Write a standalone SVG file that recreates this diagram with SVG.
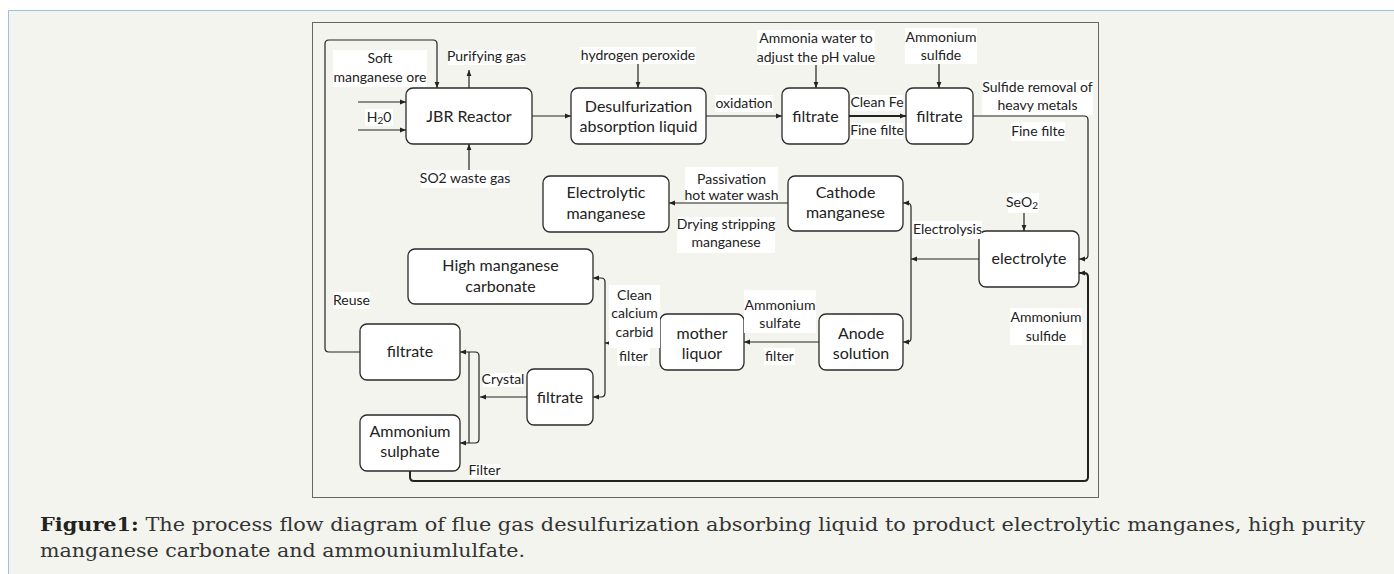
<svg xmlns="http://www.w3.org/2000/svg" width="1394" height="574" viewBox="0 0 1394 574">
<style>
.node rect{fill:#fff;stroke:#2a2a2a;stroke-width:1.3}
.node text{font-family:Lato,"Open Sans",sans-serif;font-size:16px;fill:#222;text-anchor:middle}
.lbl rect{fill:#fff;stroke:none}
.lbl text{font-family:Lato,"Open Sans",sans-serif;font-size:14px;fill:#222;text-anchor:middle}
.c path{fill:none;stroke:#222;stroke-width:1.2}
.c .thick{stroke-width:2}
.cap{font-family:"DejaVu Serif","Liberation Serif",serif;font-size:18px;fill:#333}
</style>
<defs>
<marker id="ah" viewBox="0 0 10 10" refX="10" refY="5" markerWidth="6" markerHeight="6" markerUnits="userSpaceOnUse" orient="auto-start-reverse">
<path d="M0,1 L10,5 L0,9 z" fill="#222"/>
</marker>
</defs>
<rect x="0" y="0" width="1394" height="574" fill="#fff"/>
<rect x="8" y="10" width="1386" height="564" fill="#f4f4ef"/>
<path d="M8.5,574 V10.5 H1394" fill="none" stroke="#9dbdea" stroke-width="1"/>
<rect x="312.5" y="22.5" width="786" height="475" fill="#f4f4ef" stroke="#666" stroke-width="1"/>

<g class="c" id="connectors">
<path d="M360,352 H329 Q325,352 325,348 V44 Q325,40 329,40 H433 Q437,40 437,44 V88" marker-end="url(#ah)"/>
<path d="M469,88 V70" marker-end="url(#ah)"/>
<path d="M358,102 H406" marker-end="url(#ah)"/>
<path d="M358,130 H406" marker-end="url(#ah)"/>
<path d="M469,170 V144" marker-end="url(#ah)"/>
<path d="M532,116 H571" marker-end="url(#ah)"/>
<path d="M638,64 V88" marker-end="url(#ah)"/>
<path d="M706,116 H782" marker-end="url(#ah)"/>
<path d="M816,65 V88" marker-end="url(#ah)"/>
<path class="thick" d="M849,116 H906" marker-end="url(#ah)"/>
<path d="M939,64 V88" marker-end="url(#ah)"/>
<path d="M973,116 H1084 Q1088,116 1088,120 V255 Q1088,259 1084,259 H1079" marker-end="url(#ah)"/>
<path class="thick" d="M410,471 V477 Q410,481 414,481 H1084 Q1088,481 1088,477 V277 Q1088,273 1084,273 H1079" marker-end="url(#ah)"/>
<path d="M1024,213 V231" marker-end="url(#ah)"/>
<path d="M979,259 H911" marker-end="url(#ah)"/>
<path d="M903,203 H907 Q911,203 911,207 V338 Q911,342 907,342 H903" marker-start="url(#ah)" marker-end="url(#ah)"/>
<path d="M788,203 H669" marker-end="url(#ah)"/>
<path d="M819,342 H744" marker-end="url(#ah)"/>
<path d="M660,343 H605" marker-end="url(#ah)"/>
<path d="M593,278 H601 Q605,278 605,282 V393 Q605,397 601,397 H593" marker-start="url(#ah)" marker-end="url(#ah)"/>
<path d="M527,397 H480" marker-end="url(#ah)"/>
<path d="M460,352 H475 Q479,352 479,356 V439 Q479,443 475,443 H460" marker-start="url(#ah)" marker-end="url(#ah)"/>
<path d="M469,352 V443"/>
</g>

<g class="node" id="jbr"><rect x="406" y="88" width="126" height="56" rx="7"/><text x="469" y="122">JBR Reactor</text></g>
<g class="node" id="desulf"><rect x="571" y="88" width="135" height="56" rx="7"/><text x="638.5" y="112">Desulfurization</text><text x="638.5" y="132">absorption liquid</text></g>
<g class="node" id="filtrate1"><rect x="782" y="88" width="67" height="56" rx="7"/><text x="815.5" y="122">filtrate</text></g>
<g class="node" id="filtrate2"><rect x="906" y="88" width="67" height="56" rx="7"/><text x="939.5" y="122">filtrate</text></g>
<g class="node" id="cathode"><rect x="788" y="176" width="115" height="55" rx="7"/><text x="845.5" y="198">Cathode</text><text x="845.5" y="218">manganese</text></g>
<g class="node" id="electrolytic"><rect x="543" y="176" width="126" height="56" rx="7"/><text x="606" y="198">Electrolytic</text><text x="606" y="219">manganese</text></g>
<g class="node" id="electrolyte"><rect x="979" y="231" width="100" height="56" rx="7"/><text x="1029" y="264">electrolyte</text></g>
<g class="node" id="hmc"><rect x="408" y="249" width="185" height="55" rx="7"/><text x="500.5" y="271">High manganese</text><text x="500.5" y="292">carbonate</text></g>
<g class="node" id="anode"><rect x="819" y="314" width="84" height="56" rx="7"/><text x="861" y="339">Anode</text><text x="861" y="359">solution</text></g>
<g class="node" id="mother"><rect x="660" y="314" width="84" height="56" rx="7"/><text x="702" y="339">mother</text><text x="702" y="359">liquor</text></g>
<g class="node" id="filtrateL"><rect x="360" y="324" width="100" height="56" rx="7"/><text x="410" y="357">filtrate</text></g>
<g class="node" id="filtrateM"><rect x="527" y="369" width="66" height="56" rx="7"/><text x="560" y="403">filtrate</text></g>
<g class="node" id="ammsul"><rect x="360" y="415" width="100" height="56" rx="7"/><text x="410" y="437">Ammonium</text><text x="410" y="457">sulphate</text></g>

<g class="lbl" id="labels">
<rect x="333" y="50" width="94" height="37"/><text x="380" y="63">Soft</text><text x="380" y="82">manganese ore</text>
<rect x="448" y="50" width="77" height="15"/><text x="486.5" y="61">Purifying gas</text>
<rect x="365" y="109" width="28" height="17"/><text x="379" y="122">H<tspan font-size="10" dy="2">2</tspan><tspan dy="-2">0</tspan></text>
<rect x="421" y="170" width="88" height="18"/><text x="465" y="183">SO2 waste gas</text>
<rect x="580" y="47" width="116" height="17"/><text x="638" y="60">hydrogen peroxide</text>
<rect x="715" y="95" width="58" height="17"/><text x="744" y="108">oxidation</text>
<rect x="757" y="30" width="118" height="35"/><text x="816" y="43">Ammonia water to</text><text x="816" y="62">adjust the pH value</text>
<rect x="905" y="28" width="72" height="36"/><text x="941" y="42">Ammonium</text><text x="941" y="60">sulfide</text>
<rect x="851" y="95" width="52" height="16"/><text x="877" y="107">Clean Fe</text>
<rect x="851" y="123" width="52" height="16"/><text x="877" y="135">Fine filte</text>
<rect x="982" y="80" width="111" height="35"/><text x="1037.5" y="92">Sulfide removal of</text><text x="1037.5" y="110">heavy metals</text>
<rect x="1011" y="122" width="54" height="19"/><text x="1038" y="136">Fine filte</text>
<rect x="685" y="167" width="93" height="35"/><text x="731.5" y="184">Passivation</text><text x="731.5" y="200">hot water wash</text>
<rect x="677" y="217" width="98" height="36"/><text x="726" y="229">Drying stripping</text><text x="726" y="247">manganese</text>
<rect x="1008" y="193" width="31" height="20"/><text x="1022" y="207">SeO<tspan font-size="10" dy="2">2</tspan></text>
<rect x="913" y="221" width="69" height="18"/><text x="947.5" y="234">Electrolysis</text>
<rect x="333" y="292" width="37" height="17"/><text x="351.5" y="305">Reuse</text>
<rect x="1010" y="308" width="72" height="37"/><text x="1046" y="322">Ammonium</text><text x="1046" y="341">sulfide</text>
<rect x="744" y="290" width="72" height="43"/><text x="780" y="310">Ammonium</text><text x="780" y="328">sulfate</text>
<rect x="764" y="348" width="31" height="17"/><text x="779.5" y="361">filter</text>
<rect x="609" y="285" width="51" height="63"/><text x="634.5" y="300">Clean</text><text x="634.5" y="318">calcium</text><text x="634.5" y="337">carbid</text>
<rect x="617" y="348" width="33" height="18"/><text x="633.5" y="361">filter</text>
<rect x="483" y="373" width="40" height="14"/><text x="503" y="384">Crystal</text>
<rect x="469" y="464" width="31" height="14"/><text x="484.5" y="475">Filter</text>
</g>

<g id="caption">
<text class="cap" x="40" y="531" textLength="1325" lengthAdjust="spacingAndGlyphs"><tspan font-weight="bold" fill="#222">Figure1:</tspan> The process flow diagram of flue gas desulfurization absorbing liquid to product electrolytic manganes, high purity</text>
<text class="cap" x="40" y="557" textLength="485" lengthAdjust="spacingAndGlyphs">manganese carbonate and ammouniumlulfate.</text>
</g>
</svg>
